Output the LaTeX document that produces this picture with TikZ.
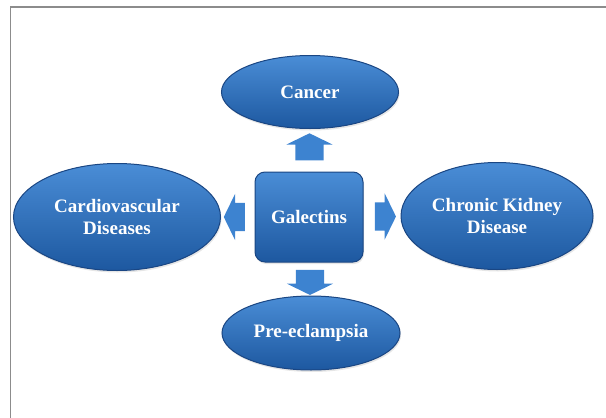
\documentclass[tikz,border=0pt]{standalone}
\usepackage{fontspec}
\setmainfont{Liberation Serif}
\usetikzlibrary{positioning,calc,shapes.geometric,shapes.arrows,shadows}
\definecolor{gloTop}{HTML}{4A8DD6}
\definecolor{gloBot}{HTML}{1D58A0}
\definecolor{gloEdge}{HTML}{1A4683}
\definecolor{gloArrow}{HTML}{3D83D0}
\definecolor{frameGray}{HTML}{8C8C8C}
\tikzset{
  diseasebox/.style={ellipse, draw=gloEdge, line width=1pt, inner sep=0pt,
    top color=gloTop, bottom color=gloBot, text=white, align=center,
    font=\fontsize{19}{22}\selectfont\bfseries,
    drop shadow={shadow xshift=1pt, shadow yshift=-2pt, opacity=0.2}},
  hubbox/.style={diseasebox, rectangle, rounded corners=10pt,
    minimum width=108pt, minimum height=90pt},
  blockarrow/.style={single arrow, draw=none, fill=gloArrow, inner xsep=0pt,
    inner ysep=14pt, single arrow head extend=9pt,
    single arrow tip angle=128},
}

\begin{document}
\begin{tikzpicture}[x=1pt, y=-1pt]
  \useasboundingbox (0,0) rectangle (606,418);
  % frame
  \draw[frameGray, line width=1.6pt] (10.5,418) -- (10.5,7) -- (606,7);
  % centre and the four diseases
  \node[hubbox] (gal) at (309,217) {Galectins};
  \node[diseasebox, minimum width=177pt, minimum height=73pt] (cancer) at (310,92) {Cancer};
  \node[diseasebox, minimum width=207pt, minimum height=107pt] (cardio) at (117,217) {Cardiovascular\\Diseases};
  \node[diseasebox, minimum width=192pt, minimum height=107pt] (ckd) at (497,216) {Chronic Kidney\\Disease};
  \node[diseasebox, minimum width=178pt, minimum height=74pt] (pre) at (311,333) {Pre-eclampsia};
  % block arrows
  \node[blockarrow, minimum height=27pt, rotate=90] (aup) at ($(gal.north)!0.5!(cancer.south)$) {};
  \node[blockarrow, minimum height=25pt, rotate=-90] (adown) at ($(gal.south)!0.5!(pre.north)$) {};
  \node[blockarrow, minimum height=21pt, rotate=180] (aleft) at ($(gal.west)!0.5!(cardio.east)$) {};
  \node[blockarrow, minimum height=21pt] (aright) at ($(gal.east)!0.5!(ckd.west)$) {};
\end{tikzpicture}
\end{document}
